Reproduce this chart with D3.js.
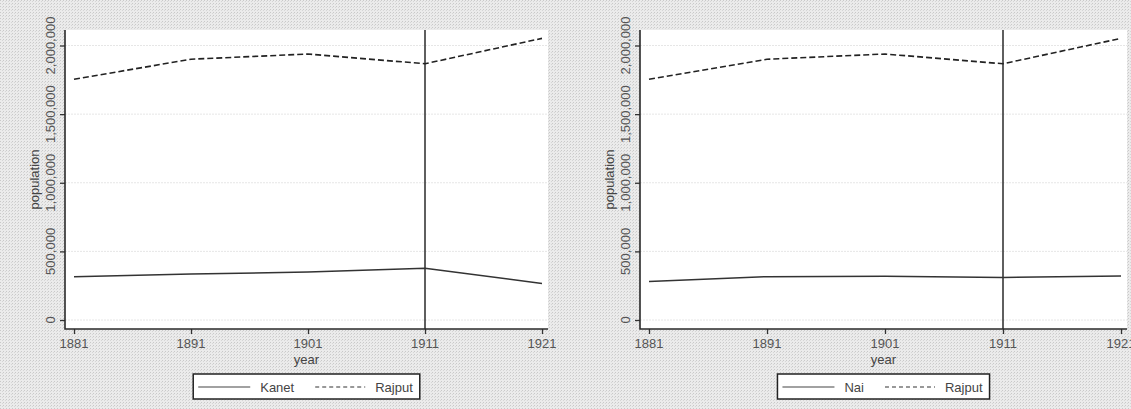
<!DOCTYPE html>
<html>
<head>
<meta charset="utf-8">
<script src="https://cdn.jsdelivr.net/npm/d3@7/dist/d3.min.js"></script>
<style>
  body { margin: 0; background: #e4e4e4; }
  svg { display: block; }
  text { font-family: "Liberation Sans", Arial, sans-serif; }
</style>
</head>
<body>
<svg id="chart" width="1131" height="409"></svg>
<script>
var years = [1881, 1891, 1901, 1911, 1921]
var rajput = [1754000, 1900000, 1938000, 1867000, 2052000]
var kanet = [316000, 335000, 349000, 377000, 266000]
var nai = [281000, 316000, 318000, 310000, 321000]
var yTicks = [0, 500000, 1000000, 1500000, 2000000]
var xTicks = [1881, 1891, 1901, 1911, 1921]
var markYear = 1911

var svg = d3.select('#chart')

// scanned paper look: light grey with a fine dot screen
var pat = svg.append('defs').append('pattern')
    .attr('id', 'scan')
    .attr('width', 3).attr('height', 3)
    .attr('patternUnits', 'userSpaceOnUse')
pat.append('rect').attr('width', 3).attr('height', 3).attr('fill', '#ebebeb')
pat.append('rect').attr('width', 1).attr('height', 1).attr('fill', '#c9c9c9')
pat.append('rect').attr('x', 2).attr('y', 1).attr('width', 1).attr('height', 1).attr('fill', '#d6d6d6')

svg.append('rect')
    .attr('width', 1131)
    .attr('height', 409)
    .attr('fill', 'url(#scan)')

var fmt = d3.format(',')

function drawPanel(left, right, other, otherName) {
    var top = 30, bottom = 329
    var x = d3.scaleLinear().domain([1881, 1921]).range([left + 9, right - 6])
    var y = d3.scaleLinear().domain([0, 2000000]).range([320, 45.5])
    var g = svg.append('g')

    g.append('rect')
        .attr('x', left).attr('y', top)
        .attr('width', right - left).attr('height', bottom - top)
        .attr('fill', '#fff')

    // faint grid
    g.selectAll('.grid').data(yTicks).enter().append('line')
        .attr('x1', left).attr('x2', right)
        .attr('y1', d => y(d)).attr('y2', d => y(d))
        .attr('stroke', '#e6e6e6')
        .attr('stroke-width', 1)
        .attr('stroke-dasharray', '2,1')

    var yAxis = g.append('g')
        .attr('transform', 'translate(' + left + ',0)')
        .call(d3.axisLeft(y).tickValues(yTicks).tickSize(5).tickFormat(''))
    var xAxis = g.append('g')
        .attr('transform', 'translate(0,' + bottom + ')')
        .call(d3.axisBottom(x).tickValues(xTicks).tickSize(5).tickFormat(''))
    ;[yAxis, xAxis].forEach(a => {
        a.select('.domain').remove()
        a.selectAll('line').attr('stroke', '#333').attr('stroke-width', 1.3)
    })
    g.append('path')
        .attr('d', 'M' + left + ',' + top + 'V' + bottom + 'H' + right)
        .attr('fill', 'none')
        .attr('stroke', '#2a2a2a')
        .attr('stroke-width', 1.6)

    g.selectAll('.ylab').data(yTicks).enter().append('text')
        .attr('transform', d => 'translate(' + (left - 10) + ',' + y(d) + ') rotate(-90)')
        .attr('text-anchor', 'middle')
        .attr('font-size', 13)
        .attr('fill', '#555')
        .text(d => fmt(d))

    g.selectAll('.xlab').data(xTicks).enter().append('text')
        .attr('x', d => x(d)).attr('y', 348)
        .attr('text-anchor', 'middle')
        .attr('font-size', 13)
        .attr('fill', '#555')
        .text(d => d)

    g.append('text')
        .attr('transform', 'translate(' + (left - 26) + ',' + ((top + bottom) / 2) + ') rotate(-90)')
        .attr('text-anchor', 'middle')
        .attr('font-size', 13)
        .attr('fill', '#444')
        .text('population')
    g.append('text')
        .attr('x', (left + right) / 2).attr('y', 364)
        .attr('text-anchor', 'middle')
        .attr('font-size', 13)
        .attr('fill', '#444')
        .text('year')

    // vertical reference line
    g.append('line')
        .attr('x1', x(markYear)).attr('x2', x(markYear))
        .attr('y1', top).attr('y2', bottom)
        .attr('stroke', '#2a2a2a')
        .attr('stroke-width', 1.5)

    var line = d3.line().x((d, i) => x(years[i])).y(d => y(d))
    g.append('path')
        .attr('d', line(other))
        .attr('fill', 'none')
        .attr('stroke', '#333')
        .attr('stroke-width', 1.5)
    g.append('path')
        .attr('d', line(rajput))
        .attr('fill', 'none')
        .attr('stroke', '#222')
        .attr('stroke-width', 1.6)
        .attr('stroke-dasharray', '6,3')

    // legend
    var leg = g.append('g')
    var t1 = leg.append('text').attr('font-size', 13).attr('fill', '#444').text(otherName)
    var t2 = leg.append('text').attr('font-size', 13).attr('fill', '#444').text('Rajput')
    var w1 = t1.node().getComputedTextLength()
    var w2 = t2.node().getComputedTextLength()
    var boxW = 5 + 52 + 10 + w1 + 21 + 50 + 10 + w2 + 7
    var bx = (left + right) / 2 - boxW / 2
    var by = 374, ly = 387
    leg.insert('rect', 'text')
        .attr('x', bx).attr('y', by)
        .attr('width', boxW).attr('height', 25)
        .attr('fill', '#fff')
        .attr('stroke', '#222')
        .attr('stroke-width', 1.5)
    var cx = bx + 5
    leg.append('line')
        .attr('x1', cx).attr('x2', cx + 52).attr('y1', ly).attr('y2', ly)
        .attr('stroke', '#444').attr('stroke-width', 1.2)
    cx += 62
    t1.attr('x', cx).attr('y', ly + 5)
    cx += w1 + 21
    leg.append('line')
        .attr('x1', cx).attr('x2', cx + 50).attr('y1', ly).attr('y2', ly)
        .attr('stroke', '#333').attr('stroke-width', 1.2)
        .attr('stroke-dasharray', '4,3')
    cx += 60
    t2.attr('x', cx).attr('y', ly + 5)
}

drawPanel(65, 548, kanet, 'Kanet')
drawPanel(640, 1127, nai, 'Nai')
</script>
</body>
</html>
